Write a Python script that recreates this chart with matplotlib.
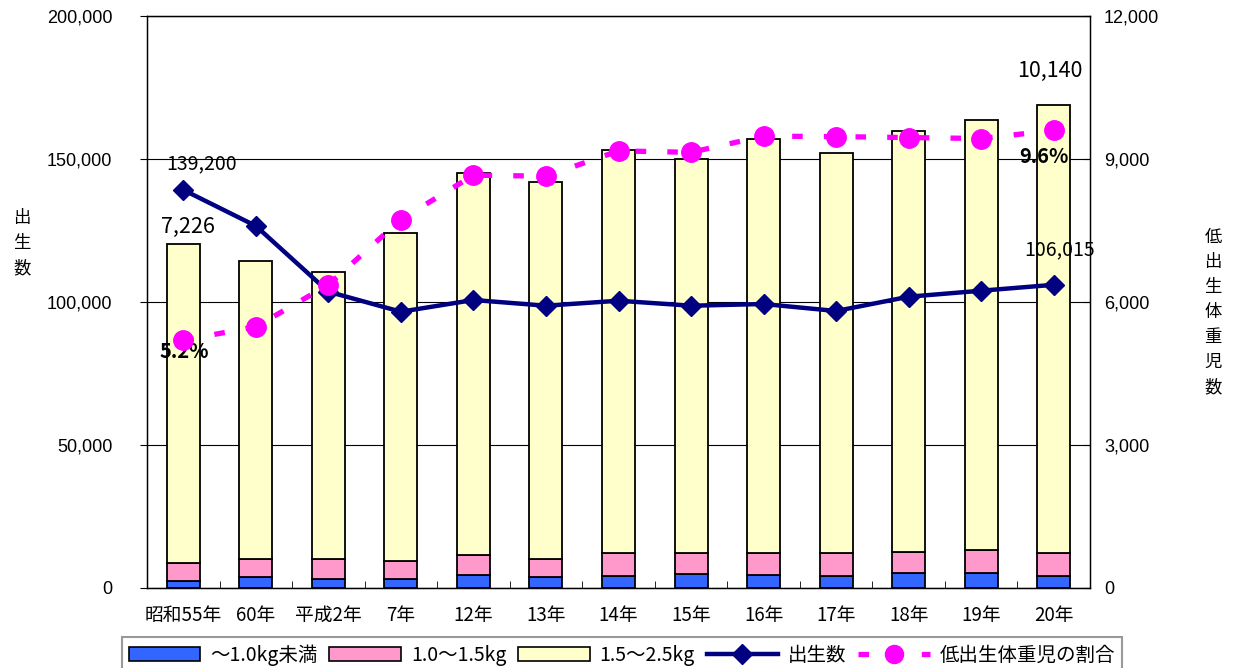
import matplotlib
matplotlib.use("Agg")
import matplotlib.pyplot as plt
from matplotlib.patches import Patch
from matplotlib.lines import Line2D
import numpy as np

categories = ['昭和55年', '60年', '平成2年', '7年', '12年', '13年', '14年',
              '15年', '16年', '17年', '18年', '19年', '20年']
under_1_0kg = [150, 230, 190, 180, 265, 230, 260, 300, 265, 260, 310, 310, 260]
kg_1_0_to_1_5 = [380, 378, 420, 385, 425, 380, 475, 430, 470, 470, 445, 480, 470]
kg_1_5_to_2_5 = [6696, 6252, 6020, 6885, 8010, 7910, 8455, 8270, 8685, 8400, 8835, 9030, 9410]
births = [139200, 126600, 103600, 96600, 100700, 98700, 100450, 98700,
          99300, 96850, 101850, 103950, 106015]
low_weight_pct = [5.2, 5.48, 6.36, 7.73, 8.66, 8.64, 9.17, 9.14, 9.48, 9.47, 9.45, 9.43, 9.6]

left_ticks = [0, 50000, 100000, 150000, 200000]
right_ticks = [0, 3000, 6000, 9000, 12000]

JP = ['Noto Sans CJK JP', 'DejaVu Sans']
NUM = ['Liberation Sans', 'DejaVu Sans']
plt.rcParams['font.family'] = JP

C_BLUE = '#3366FF'
C_PINK = '#FF99CC'
C_YELLOW = '#FFFFCC'
C_NAVY = '#000080'
C_MAG = '#FF00FF'

fig = plt.figure(figsize=(12.33, 6.68), dpi=100)
ax = fig.add_axes([147/1233, 1-588/668, (1090-147)/1233, (588-16)/668])
axb = ax.twinx()
axp = ax.twinx()

x = np.arange(len(categories))
w = 0.455

# bars (right axis)
b1 = np.array(under_1_0kg)
b2 = np.array(kg_1_0_to_1_5)
b3 = np.array(kg_1_5_to_2_5)
axb.bar(x, b1, w, color=C_BLUE, edgecolor='black', linewidth=1.3, zorder=3)
axb.bar(x, b2, w, bottom=b1, color=C_PINK, edgecolor='black', linewidth=1.3, zorder=3)
axb.bar(x, b3, w, bottom=b1 + b2, color=C_YELLOW, edgecolor='black', linewidth=1.3, zorder=3)
axb.set_ylim(0, 12000)
axb.set_yticks(right_ticks)
axb.set_yticklabels([f'{v:,}' for v in right_ticks], fontfamily=NUM, fontsize=13)
axb.tick_params(axis='y', direction='in', length=5, pad=10, colors='black')
axb.yaxis.grid(True, color='black', linewidth=0.8, zorder=0)
axb.set_axisbelow(True)

# births line (left axis)
ax.plot(x, births, color=C_NAVY, linewidth=3.2, marker='D', markersize=10.5, zorder=5)
ax.set_ylim(0, 200000)
ax.set_xlim(-0.5, len(categories) - 0.5)
ax.set_yticks(left_ticks)
ax.set_yticklabels([f'{v:,}' for v in left_ticks], fontfamily=NUM, fontsize=13)
ax.tick_params(axis='y', direction='out', length=5, pad=20)
ax.set_xticks(x)
ax.set_xticklabels(categories, fontsize=13.5)
ax.tick_params(axis='x', length=0, pad=12)
ax.set_xticks(np.arange(len(categories) - 1) + 0.5, minor=True)
ax.tick_params(axis='x', which='minor', direction='in', length=5)
for s in ax.spines.values():
    s.set_linewidth(1.0)

ax.set_zorder(2)
axb.set_zorder(1)
ax.patch.set_visible(False)

# percentage line (hidden 0-12 % axis)
axp.plot(x, low_weight_pct, color=C_MAG, linewidth=3.8, linestyle=(0, (2.0, 4.0)),
         dash_capstyle='butt', marker='o', markersize=14, zorder=6)
axp.set_ylim(0, 12)
axp.axis('off')
axp.set_zorder(3)

# annotations
ax.annotate(f'{births[0]:,}', (x[0], births[0]), xytext=(18, 26), textcoords='offset pixels',
            ha='center', va='center', fontsize=14)
ax.annotate(f'{births[-1]:,}', (x[-1], births[-1]), xytext=(6, 35), textcoords='offset pixels',
            ha='center', va='center', fontsize=14)
tot_first = under_1_0kg[0] + kg_1_0_to_1_5[0] + kg_1_5_to_2_5[0]
tot_last = under_1_0kg[-1] + kg_1_0_to_1_5[-1] + kg_1_5_to_2_5[-1]
axb.annotate('7,226', (x[0], tot_first), xytext=(5, 17), textcoords='offset pixels',
             ha='center', va='center', fontsize=15.5)
axb.annotate('10,140', (x[-1], tot_last), xytext=(-4, 34), textcoords='offset pixels',
             ha='center', va='center', fontsize=15.5)
axp.annotate(f'{low_weight_pct[0]}%', (x[0], low_weight_pct[0]), xytext=(1, -11),
             textcoords='offset pixels', ha='center', va='center', fontsize=14.5, fontweight='bold')
axp.annotate(f'{low_weight_pct[-1]}%', (x[-1], low_weight_pct[-1]), xytext=(-10, -26),
             textcoords='offset pixels', ha='center', va='center', fontsize=14.5, fontweight='bold')

# axis titles (vertical stacked)
fig.text(22/1233, 1-243/668, '\n'.join('出生数'), ha='center', va='center',
         fontsize=12.5, linespacing=1.5)
fig.text(1213/1233, 1-312/668, '\n'.join('低出生体重児数'), ha='center', va='center',
         fontsize=12.5, linespacing=1.5)

# legend
handles = [
    Patch(facecolor=C_BLUE, edgecolor='black', linewidth=1.2),
    Patch(facecolor=C_PINK, edgecolor='black', linewidth=1.2),
    Patch(facecolor=C_YELLOW, edgecolor='black', linewidth=1.2),
    Line2D([], [], color=C_NAVY, linewidth=3.2, marker='D', markersize=10),
    Line2D([], [], color=C_MAG, linewidth=3.8, linestyle=(0, (2.0, 4.0)), marker='o', markersize=13),
]
labels = ['〜1.0kg未満', '1.0〜1.5kg', '1.5〜2.5kg', '出生数', '低出生体重児の割合']
leg = fig.legend(handles, labels, loc='center', bbox_to_anchor=(622/1233, 1-655/668),
                 ncol=5, fontsize=14, frameon=True, fancybox=False, edgecolor='#808080',
                 handlelength=3.7, handleheight=0.8, columnspacing=0.6, handletextpad=0.5,
                 borderpad=0.35)
leg.get_frame().set_linewidth(1.5)

fig.savefig('out.png', dpi=100, facecolor='white')
